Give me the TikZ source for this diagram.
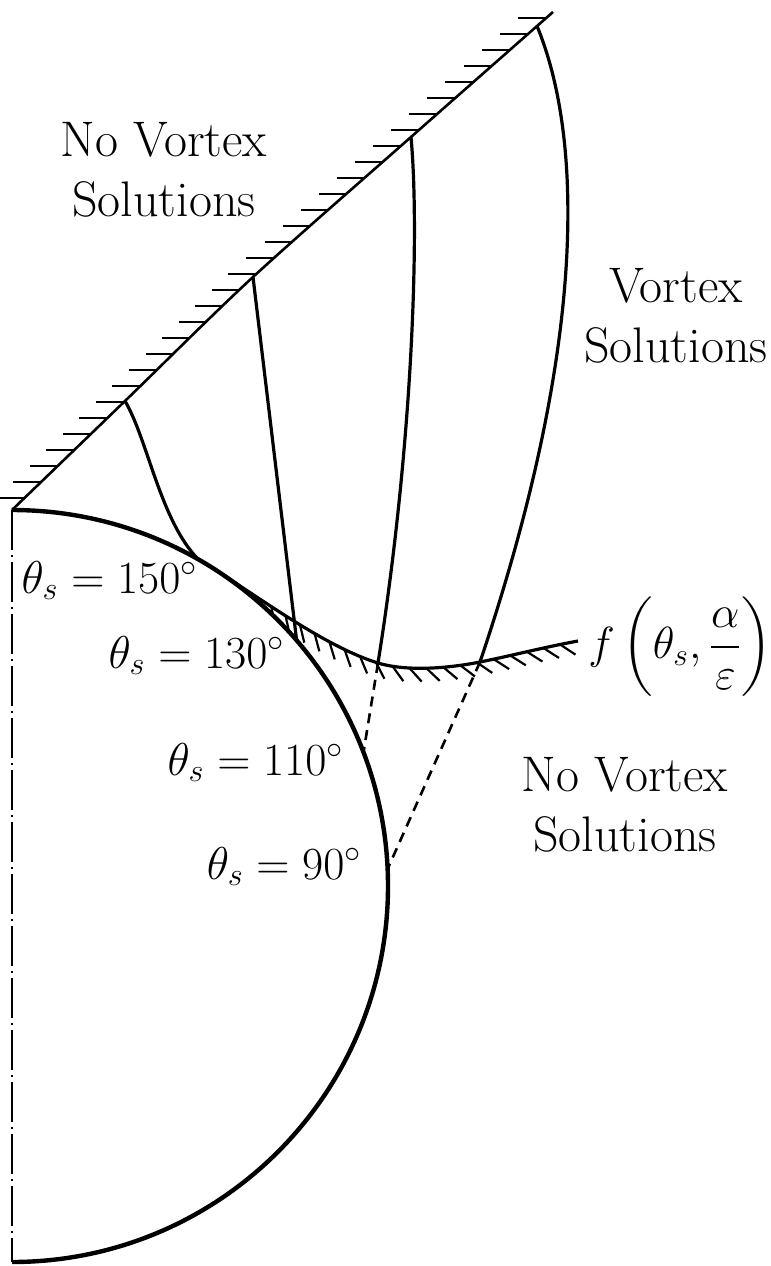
\RequirePackage{fix-cm}
\documentclass[tikz,border=0pt]{standalone}
\usepackage{amsmath}
\usetikzlibrary{calc,decorations.markings}
\begin{document}
\begin{tikzpicture}[x=0.5pt,y=0.5pt,
  wallline/.style={line width=1.3pt},
  walltick/.style={line width=1.2pt},
  hatchtick/.style={line width=1.1pt},
  curveline/.style={line width=1.6pt},
  dropline/.style={line width=2.2pt},
  dashline/.style={line width=1.3pt, dash pattern=on 5pt off 3.5pt},
  axisline/.style={line width=0.6pt, dash pattern=on 20pt off 2.5pt on 1pt off 2.5pt},
  lbl/.style={font=\fontsize{25}{30}\selectfont, align=center, inner sep=0pt},
  mlbl/.style={font=\fontsize{23}{30}\selectfont, inner sep=0pt, anchor=base east}]
\useasboundingbox (0,0) rectangle (771,-1266);

% key coordinates
\coordinate (O) at (12,-886);
\coordinate (W0) at (12,-510);
\coordinate (Wt) at (553,-12);
\coordinate (B) at (12,-1262);
\coordinate (C150) at ($(O)+(60.3:376)$);
\coordinate (C130) at ($(O)+(40.8:376)$);
\coordinate (C110) at ($(O)+(20.8:376)$);
\coordinate (C90) at ($(O)+(2.6:376)$);
\coordinate (P1) at (125,-401);
\coordinate (P2) at (253,-277);
\coordinate (P3) at (411,-137);
\coordinate (P4) at (537,-26);
\coordinate (F3) at (378,-663);
\coordinate (F4) at (480,-662);
\coordinate (Fend) at (578,-641);

% f curve with hatching
\draw[curveline, postaction={decorate},
  decoration={markings,
    mark=between positions 0.17 and 0.96 step 8.5pt with {\draw[hatchtick] (0,0) -- (6.5pt,-6.5pt);}}]
  (C150) .. controls (250,-590) and (320,-645) .. (F3)
         .. controls (408,-672) and (450,-668) .. (F4)
         .. controls (510,-656) and (545,-647) .. (Fend);

% hide hatch inside the drop
\fill[white] (W0) arc[start angle=90, end angle=-90, radius=376] -- cycle;

% axis
\draw[axisline] (W0) -- (B);

% drop boundary
\draw[dropline] (W0) arc[start angle=90, end angle=-90, radius=376];

% hatched wall
\draw[wallline] plot[smooth, tension=0.5] coordinates {(W0) (P1) (P2) (P3) (Wt)};
\foreach \k in {0,...,30}{
  \pgfmathsetmacro\yy{498-16*\k}
  \pgfmathsetmacro\xa{12+(510-\yy)/109*113}
  \pgfmathsetmacro\xb{125+(401-\yy)/124*128}
  \pgfmathsetmacro\xc{253+(277-\yy)/140*158}
  \pgfmathsetmacro\xd{411+(137-\yy)/125*142}
  \pgfmathsetmacro\xx{\yy>401 ? \xa : (\yy>277 ? \xb : (\yy>137 ? \xc : \xd))}
  \draw[walltick] (\xx,-\yy) -- ++(-28,0);
}

% curves from wall
\draw[curveline] (P1) .. controls (148,-440) and (160,-520) .. (C150);
\draw[curveline] (P2) -- (C130);
\draw[curveline] (P3) .. controls (420,-235) and (412,-450) .. (F3);
\draw[curveline] (P4) .. controls (580,-130) and (592,-330) .. (F4);

% dashed extensions
\draw[dashline] (F3) -- (C110);
\draw[dashline] (F4) -- (C90);

% labels
\node[lbl] (nvA) at (164,-170) {No Vortex\\Solutions};
\node[lbl] (vB) at (676,-316) {Vortex\\Solutions};
\node[lbl] (nvC) at (625,-805) {No Vortex\\Solutions};
\node[mlbl] (t150) at (198,-593) {$\theta_s = 150^\circ$};
\node[mlbl] (t130) at (285,-668) {$\theta_s = 130^\circ$};
\node[mlbl] (t110) at (344,-775) {$\theta_s = 110^\circ$};
\node[mlbl] (t90) at (362,-879) {$\theta_s = 90^\circ$};
\node[font=\fontsize{22.5}{30}\selectfont, inner sep=0pt, anchor=west] (fl) at (588,-647)
  {$f\left(\theta_s,\dfrac{\alpha}{\varepsilon}\right)$};
\end{tikzpicture}
\end{document}
